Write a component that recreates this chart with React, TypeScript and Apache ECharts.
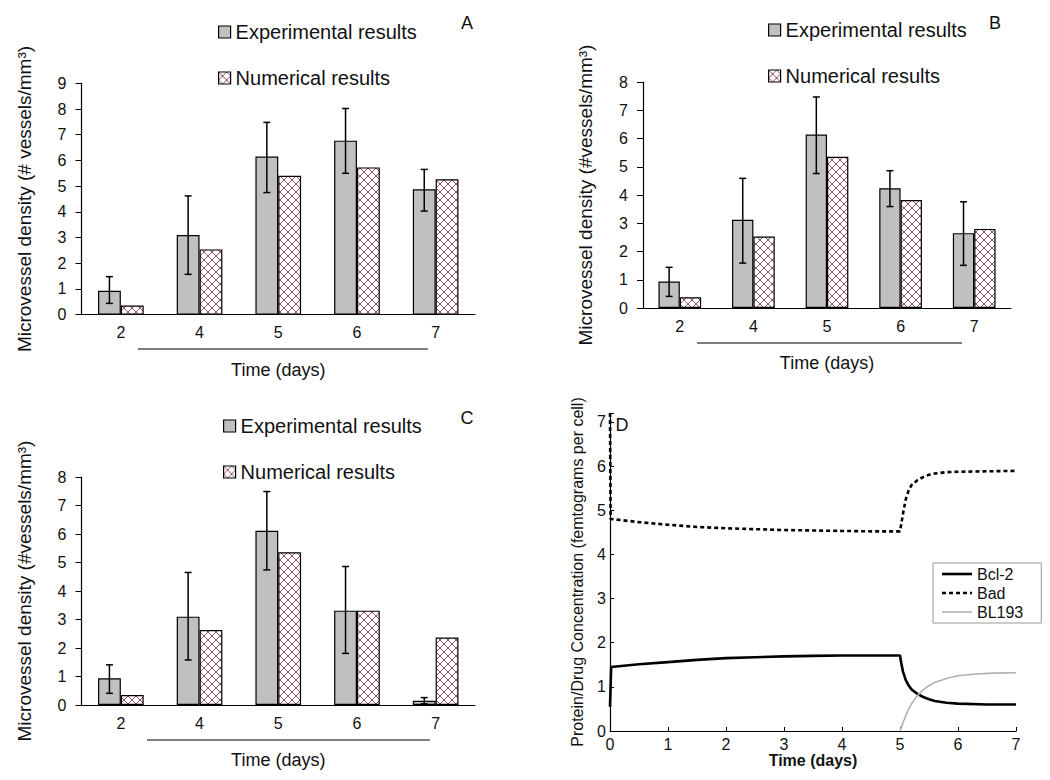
import React, { useEffect, useRef } from 'react';
import * as echarts from 'echarts';

// ---------- data ----------
const categories = ['2', '4', '5', '6', '7'];

const aExp = [0.93, 3.1, 6.15, 6.77, 4.88];
const aExpHigh = [1.48, 4.62, 7.48, 8.02, 5.65];
const aExpLow = [0.44, 1.57, 4.75, 5.5, 4.03];
const aNum = [0.36, 2.54, 5.4, 5.73, 5.27];

const bExp = [0.94, 3.12, 6.14, 4.24, 2.65];
const bExpHigh = [1.44, 4.59, 7.47, 4.86, 3.76];
const bExpLow = [0.41, 1.59, 4.76, 3.59, 1.51];
const bNum = [0.38, 2.53, 5.35, 3.82, 2.8];

const cExp = [0.94, 3.1, 6.11, 3.31, 0.15];
const cExpHigh = [1.41, 4.65, 7.49, 4.86, 0.26];
const cExpLow = [0.41, 1.58, 4.74, 1.81, 0.04];
const cNum = [0.35, 2.63, 5.36, 3.31, 2.37];

const dBcl2 = [
  [0, 0.55], [0.02, 1.45], [0.5, 1.51], [1, 1.56], [1.5, 1.61], [2, 1.65], [2.5, 1.67],
  [3, 1.69], [3.5, 1.7], [4, 1.71], [4.5, 1.71], [5, 1.71], [5.02, 1.55], [5.05, 1.35],
  [5.1, 1.15], [5.15, 1.03], [5.2, 0.94], [5.3, 0.84], [5.4, 0.77], [5.5, 0.72], [5.6, 0.68],
  [5.8, 0.64], [6, 0.62], [6.5, 0.6], [7, 0.6],
];
const dBad = [
  [0, 7.2], [0.01, 4.8], [0.5, 4.73], [1, 4.67], [1.5, 4.62], [2, 4.59], [2.5, 4.57],
  [3, 4.55], [3.5, 4.54], [4, 4.53], [4.5, 4.52], [5, 4.52], [5.03, 4.75], [5.06, 4.98],
  [5.1, 5.25], [5.15, 5.45], [5.2, 5.57], [5.3, 5.68], [5.4, 5.75], [5.5, 5.8], [5.6, 5.83],
  [5.8, 5.86], [6, 5.87], [6.5, 5.88], [7, 5.89],
];
const dBL193 = [
  [5, 0], [5.05, 0.18], [5.1, 0.35], [5.15, 0.5], [5.2, 0.62], [5.3, 0.8], [5.4, 0.93],
  [5.5, 1.03], [5.6, 1.1], [5.8, 1.19], [6, 1.25], [6.3, 1.29], [6.6, 1.31], [7, 1.32],
];

const EXP_NAME = 'Experimental results';
const NUM_NAME = 'Numerical results';
const FONT = '"Liberation Sans", Arial, sans-serif';
const BAR_FRAC = 0.29;

const BCL_STYLE = { color: '#000', width: 2.6 };
const BAD_STYLE = { color: '#000', width: 2.6, dash: [4, 3] };
const BL_STYLE = { color: '#b0b0b0', width: 1.6 };

function makeHatch(): string {
  const s = 8;
  const c = document.createElement('canvas');
  c.width = s;
  c.height = s;
  const g = c.getContext('2d')!;
  g.fillStyle = '#ffffff';
  g.fillRect(0, 0, s, s);
  g.strokeStyle = '#94506f';
  g.lineWidth = 1;
  g.beginPath();
  g.moveTo(-1, -1);
  g.lineTo(s + 1, s + 1);
  g.moveTo(s + 1, -1);
  g.lineTo(-1, s + 1);
  g.stroke();
  return c.toDataURL();
}

function barPanel(
  idx: number,
  exp: number[],
  lo: number[],
  hi: number[],
  num: number[],
  yMax: number,
  yName: string,
  hatch: any,
) {
  const xAxis = {
    type: 'category',
    gridIndex: idx,
    data: categories,
    axisLine: { lineStyle: { color: '#000', width: 1.2 } },
    axisTick: { show: false },
    axisLabel: { fontSize: 16, color: '#111', fontFamily: FONT, margin: 10 },
    name: 'Time (days)',
    nameLocation: 'middle',
    nameGap: 46,
    nameTextStyle: { fontSize: 18, color: '#111', fontFamily: FONT },
  };
  const yAxis = {
    type: 'value',
    gridIndex: idx,
    min: 0,
    max: yMax,
    interval: 1,
    axisLine: { show: true, lineStyle: { color: '#000', width: 1.2 } },
    axisTick: { show: true, length: 6, lineStyle: { color: '#000' } },
    splitLine: { show: false },
    axisLabel: { fontSize: 16, color: '#111', fontFamily: FONT, margin: 15 },
    name: yName,
    nameLocation: 'middle',
    nameGap: 48,
    nameRotate: 90,
    nameTextStyle: { fontSize: 19, color: '#111', fontFamily: FONT },
  };
  const series = [
    {
      type: 'bar',
      name: EXP_NAME,
      xAxisIndex: idx,
      yAxisIndex: idx,
      data: exp,
      barWidth: BAR_FRAC * 100 + '%',
      barGap: '0%',
      itemStyle: { color: '#c0c0c0', borderColor: '#000', borderWidth: 1.2 },
    },
    {
      type: 'bar',
      name: NUM_NAME,
      xAxisIndex: idx,
      yAxisIndex: idx,
      data: num,
      barWidth: BAR_FRAC * 100 + '%',
      barGap: '0%',
      itemStyle: { color: hatch, borderColor: '#000', borderWidth: 1.2 },
    },
    {
      type: 'custom',
      name: 'err' + idx,
      xAxisIndex: idx,
      yAxisIndex: idx,
      z: 10,
      encode: { x: 0, y: [1, 2] },
      data: categories.map((_, i) => [i, lo[i], hi[i]]),
      renderItem: (params: any, api: any) => {
        const i = api.value(0);
        const band = api.size([1, 0])[0];
        const off = (-band * BAR_FRAC) / 2;
        const pH = api.coord([i, api.value(2)]);
        const pL = api.coord([i, api.value(1)]);
        const x = pH[0] + off;
        const cap = 3.5;
        const st = { stroke: '#000', lineWidth: 1.5 };
        return {
          type: 'group',
          children: [
            { type: 'line', shape: { x1: x, y1: pH[1], x2: x, y2: pL[1] }, style: st },
            { type: 'line', shape: { x1: x - cap, y1: pH[1], x2: x + cap, y2: pH[1] }, style: st },
            { type: 'line', shape: { x1: x - cap, y1: pL[1], x2: x + cap, y2: pL[1] }, style: st },
          ],
        };
      },
    },
  ];
  return { xAxis, yAxis, series };
}

function barLegend(left: number, top: number) {
  return {
    orient: 'vertical',
    left,
    top,
    padding: 0,
    icon: 'rect',
    itemWidth: 12,
    itemHeight: 12,
    itemGap: 26,
    selectedMode: false,
    data: [EXP_NAME, NUM_NAME],
    textStyle: { fontSize: 20, color: '#111', fontFamily: FONT },
    itemStyle: { borderColor: '#000', borderWidth: 1.2 },
  };
}

export default function App() {
  const ref = useRef<HTMLDivElement>(null);
  useEffect(() => {
    document.body.style.margin = '0';
    if (!ref.current) return;
    const chart = echarts.init(ref.current, null, { renderer: 'svg' });
    const hatch = {
      image: makeHatch(),
      repeat: 'repeat',
      imageWidth: 8,
      imageHeight: 8,
    };
    const pA = barPanel(0, aExp, aExpLow, aExpHigh, aNum, 9, 'Microvessel density (# vessels/mm³)', hatch);
    const pB = barPanel(1, bExp, bExpLow, bExpHigh, bNum, 8, 'Microvessel density (#vessels/mm³)', hatch);
    const pC = barPanel(2, cExp, cExpLow, cExpHigh, cNum, 8, 'Microvessel density (#vessels/mm³)', hatch);

    const xD = {
      type: 'value',
      gridIndex: 3,
      min: 0,
      max: 7,
      interval: 1,
      axisLine: { lineStyle: { color: '#000', width: 1.2 } },
      axisTick: { show: true, inside: true, length: 4, lineStyle: { color: '#000' } },
      splitLine: { show: false },
      axisLabel: { fontSize: 16, color: '#111', fontFamily: FONT, margin: 5 },
      name: 'Time (days)',
      nameLocation: 'middle',
      nameGap: 19,
      nameTextStyle: { fontSize: 16, fontWeight: 'bold', color: '#111', fontFamily: FONT },
    };
    const yD = {
      type: 'value',
      gridIndex: 3,
      min: 0,
      max: 7.2,
      interval: 1,
      axisLine: { show: true, lineStyle: { color: '#000', width: 1.2 } },
      axisTick: { show: true, inside: true, length: 4, lineStyle: { color: '#000' } },
      splitLine: { show: false },
      axisLabel: {
        fontSize: 16,
        color: '#111',
        fontFamily: FONT,
        margin: 4,
        formatter: (v: number) => (Math.abs(v - Math.round(v)) < 1e-6 ? String(Math.round(v)) : ''),
      },
      name: 'Protein/Drug Concentration (femtograms per cell)',
      nameLocation: 'middle',
      nameGap: 25,
      nameRotate: 90,
      nameTextStyle: { fontSize: 16, color: '#111', fontFamily: FONT },
    };
    const seriesD = [
      {
        type: 'line',
        name: 'Bcl-2',
        xAxisIndex: 3,
        yAxisIndex: 3,
        data: dBcl2,
        symbol: 'none',
        lineStyle: { color: BCL_STYLE.color, width: BCL_STYLE.width },
        itemStyle: { color: '#000' },
      },
      {
        type: 'line',
        name: 'Bad',
        xAxisIndex: 3,
        yAxisIndex: 3,
        data: dBad,
        symbol: 'none',
        lineStyle: { color: BAD_STYLE.color, width: BAD_STYLE.width, type: BAD_STYLE.dash },
        itemStyle: { color: '#000' },
      },
      {
        type: 'line',
        name: 'BL193',
        xAxisIndex: 3,
        yAxisIndex: 3,
        data: dBL193,
        symbol: 'none',
        lineStyle: { color: BL_STYLE.color, width: BL_STYLE.width },
        itemStyle: { color: BL_STYLE.color },
      },
    ];

    const letter = (text: string, x: number, y: number) => ({
      type: 'text',
      x,
      y,
      style: { text, fontSize: 18, fill: '#111', fontFamily: FONT, align: 'center', verticalAlign: 'middle' },
    });
    const underline = (x1: number, x2: number, y: number) => ({
      type: 'line',
      shape: { x1, y1: y, x2, y2: y },
      style: { stroke: '#000', lineWidth: 1.2 },
    });
    const keyLine = (y: number, st: any) => ({
      type: 'line',
      shape: { x1: 942, y1: y, x2: 972, y2: y },
      style: { stroke: st.color, lineWidth: st.width, lineDash: st.dash || null },
    });

    chart.setOption({
      animation: false,
      backgroundColor: '#fff',
      grid: [
        { left: 81.5, top: 83.3, width: 393.5, height: 231.4 },
        { left: 643, top: 82, width: 368, height: 226 },
        { left: 81.5, top: 477, width: 393.5, height: 228 },
        { left: 610, top: 413, width: 406, height: 318 },
      ],
      xAxis: [pA.xAxis, pB.xAxis, pC.xAxis, xD],
      yAxis: [pA.yAxis, pB.yAxis, pC.yAxis, yD],
      legend: [
        barLegend(218, 22),
        barLegend(768, 20),
        barLegend(223, 416),
        {
          orient: 'vertical',
          left: 933,
          top: 563,
          padding: [3, 18, 3, 9],
          icon: 'none',
          borderColor: '#999',
          borderWidth: 1,
          itemWidth: 30,
          itemHeight: 10,
          itemGap: 3,
          selectedMode: false,
          data: ['Bcl-2', 'Bad', 'BL193'],
          textStyle: { fontSize: 16, color: '#111', fontFamily: FONT },
        },
      ],
      graphic: [
        letter('A', 467, 23),
        letter('B', 995, 23),
        letter('C', 467, 418),
        letter('D', 622, 425),
        underline(138, 428, 349),
        underline(697, 962, 343),
        underline(147, 430, 740),
        keyLine(574, BCL_STYLE),
        keyLine(593, BAD_STYLE),
        keyLine(612, BL_STYLE),
      ],
      series: [...pA.series, ...pB.series, ...pC.series, ...seriesD],
    });
    return () => chart.dispose();
  }, []);
  return <div ref={ref} style={{ width: 1050, height: 780 }} />;
}
